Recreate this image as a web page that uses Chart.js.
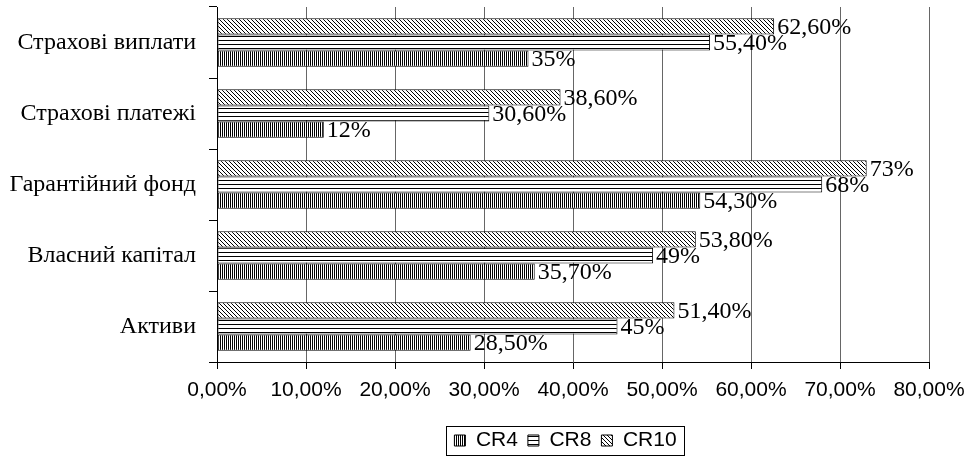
<!DOCTYPE html>
<html><head><meta charset="utf-8">
<script src="https://cdn.jsdelivr.net/npm/chart.js@4.4.1/dist/chart.umd.min.js"></script>
<style>html,body{margin:0;padding:0;background:#fff;}#wrap{width:975px;height:462px;}</style>
</head><body><div id="wrap"><canvas id="c" width="975" height="462"></canvas></div>
<script>
// Categories in Excel order (bottom to top)
const categories = ['Активи', 'Власний капітал', 'Гарантійний фонд', 'Страхові платежі', 'Страхові виплати'];
const seriesNames = ['CR4', 'CR8', 'CR10'];
const cr4 = [28.5, 35.7, 54.3, 12, 35];
const cr8 = [45, 49, 68, 30.6, 55.4];
const cr10 = [51.4, 53.8, 73, 38.6, 62.6];
const xMin = 0, xMax = 80, xStep = 10;

const canvas = document.getElementById('c');
const mainCtx = canvas.getContext('2d');

function makePattern(kind) {
  const c = document.createElement('canvas');
  const g = c.getContext('2d');
  if (kind === 'vertical') {
    c.width = 2; c.height = 2;
    g.fillStyle = '#fff'; g.fillRect(0, 0, 2, 2);
    g.fillStyle = '#000'; g.fillRect(0, 0, 1, 2);
  } else if (kind === 'horizontal') {
    c.width = 4; c.height = 4;
    g.fillStyle = '#fff'; g.fillRect(0, 0, 4, 4);
    g.fillStyle = '#000'; g.fillRect(0, 0, 4, 1);
  } else {
    c.width = 4; c.height = 4;
    g.fillStyle = '#fff'; g.fillRect(0, 0, 4, 4);
    g.fillStyle = '#000';
    for (let i = 0; i < 4; i++) g.fillRect(i, i, 1, 1);
  }
  return mainCtx.createPattern(c, 'repeat');
}

function fmtValue(v) {
  return Number.isInteger(v) ? v + '%' : v.toFixed(2).replace('.', ',') + '%';
}
function fmtTick(v) {
  return Number(v).toFixed(2).replace('.', ',') + '%';
}

const LEG_SHIFT = 101;
const legendShift = {
  id: 'legendShift',
  afterLayout(chart) {
    const lg = chart.legend;
    if (lg) { lg.left += LEG_SHIFT; lg.right += LEG_SHIFT; }
  }
};
const legendFrame = {
  id: 'legendFrame',
  afterDraw(chart) {
    const hb = chart.legend && chart.legend.legendHitBoxes;
    if (!hb || !hb.length) return;
    let l = Infinity, r = -Infinity, t = Infinity, b = -Infinity;
    hb.forEach(h => {
      l = Math.min(l, h.left); r = Math.max(r, h.left + h.width);
      t = Math.min(t, h.top); b = Math.max(b, h.top + h.height);
    });
    const ctx = chart.ctx;
    ctx.save();
    ctx.strokeStyle = '#000'; ctx.lineWidth = 1;
    ctx.strokeRect(Math.round(l - 8) + 0.5, Math.round(t - 4) + 0.5, Math.round(r - l + 16), Math.round(b - t + 8));
    ctx.restore();
  }
};
const barLabels = {
  id: 'barLabels',
  afterDatasetsDraw(chart) {
    const ctx = chart.ctx;
    ctx.save();
    ctx.font = '24px "Liberation Serif", "Times New Roman", serif';
    ctx.fillStyle = '#000';
    ctx.textAlign = 'left';
    ctx.textBaseline = 'middle';
    chart.data.datasets.forEach((ds, i) => {
      const meta = chart.getDatasetMeta(i);
      meta.data.forEach((bar, j) => {
        ctx.fillText(fmtValue(ds.data[j]), bar.x + 3, bar.y + 1);
      });
    });
    ctx.restore();
  }
};

const pat4 = makePattern('vertical');
const pat8 = makePattern('horizontal');
const pat10 = makePattern('diagonal');

new Chart(canvas, {
  type: 'bar',
  data: {
    labels: categories,
    datasets: [
      { label: seriesNames[2], data: cr10, backgroundColor: pat10, borderColor: '#000', borderWidth: 1, borderSkipped: false },
      { label: seriesNames[1], data: cr8, backgroundColor: pat8, borderColor: '#000', borderWidth: 1, borderSkipped: false },
      { label: seriesNames[0], data: cr4, backgroundColor: pat4, borderColor: '#000', borderWidth: 1, borderSkipped: false }
    ]
  },
  options: {
    indexAxis: 'y',
    responsive: false,
    devicePixelRatio: 1,
    animation: false,
    layout: { padding: { top: 7, right: 46, bottom: 1, left: 0 } },
    datasets: { bar: { categoryPercentage: 0.68, barPercentage: 1 } },
    scales: {
      x: {
        type: 'linear', min: xMin, max: xMax,
        ticks: {
          stepSize: xStep, callback: v => fmtTick(v),
          font: { family: '"Liberation Sans", Arial, sans-serif', size: 21 },
          color: '#000', padding: 9, maxRotation: 0, autoSkip: false
        },
        grid: { color: '#666', tickColor: '#000', tickLength: 7, lineWidth: 1 },
        border: { color: '#000', width: 1 },
        afterFit(s) { s.height = 58; s.paddingLeft = 0; s.paddingRight = 0; }
      },
      y: {
        reverse: true,
        ticks: { font: { family: '"Liberation Serif", "Times New Roman", serif', size: 24 }, color: '#000', padding: 13 },
        grid: { drawOnChartArea: false, tickColor: '#000', tickLength: 8, offset: true },
        border: { color: '#000', width: 1 },
        afterFit(s) { s.width = 217; s.paddingTop = 0; s.paddingBottom = 0; }
      }
    },
    plugins: {
      legend: {
        position: 'bottom', reverse: true,
        labels: { font: { family: '"Liberation Sans", Arial, sans-serif', size: 21 }, color: '#000', boxWidth: 11, boxHeight: 11, padding: 10 }
      },
      tooltip: { enabled: false }
    }
  },
  plugins: [legendShift, legendFrame, barLabels]
});
</script>
</body></html>
